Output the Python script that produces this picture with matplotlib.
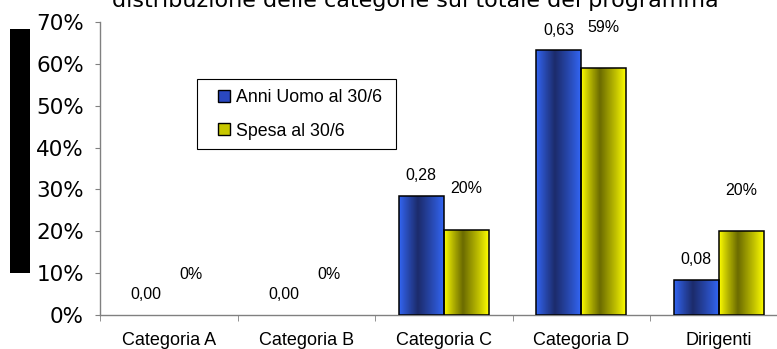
import numpy as np
import matplotlib
matplotlib.use('Agg')
import matplotlib.pyplot as plt
from matplotlib.patches import Rectangle
from matplotlib.lines import Line2D
from matplotlib.colors import ListedColormap

categories = ['Categoria A', 'Categoria B', 'Categoria C', 'Categoria D', 'Dirigenti']
anni_uomo = [0.0, 0.0, 0.284, 0.632, 0.084]
spesa = [0.0, 0.0, 0.204, 0.59, 0.20]
anni_labels = ['0,00', '0,00', '0,28', '0,63', '0,08']
spesa_labels = ['0%', '0%', '20%', '59%', '20%']
yticks = [0, 0.1, 0.2, 0.3, 0.4, 0.5, 0.6, 0.7]
ytick_labels = ['0%', '10%', '20%', '30%', '40%', '50%', '60%', '70%']

W, H = 777, 349
fig = plt.figure(figsize=(W / 100, H / 100), dpi=100)
ax = fig.add_axes([100 / W, 1 - 315 / H, 687.5 / W, 293 / H])

x = np.arange(len(categories))
bw = 0.327

def gradient_cmap(bright, dark, c=0.42):
    u = np.linspace(0, 1, 64)
    d = np.where(u < c, u / c, (1 - u) / (1 - c))
    d = np.clip(d, 0, 1) ** 0.9
    b = np.array(bright)
    k = np.array(dark)
    cols = b[None, :] * (1 - d[:, None]) + k[None, :] * d[:, None]
    return ListedColormap(cols)

blue_cm = gradient_cmap((0.20, 0.40, 0.96), (0.11, 0.17, 0.42))
yel_cm = gradient_cmap((1.0, 1.0, 0.0), (0.42, 0.42, 0.0))

bars1 = ax.bar(x - bw / 2, anni_uomo, bw, facecolor='none', edgecolor='black', lw=1.1, zorder=3)
bars2 = ax.bar(x + bw / 2, spesa, bw, facecolor='none', edgecolor='black', lw=1.1, zorder=3)

grad = np.linspace(0, 1, 64)[None, :]
for bars, cm in ((bars1, blue_cm), (bars2, yel_cm)):
    for b in bars:
        if b.get_height() <= 0:
            b.set_linewidth(0)  # empty bars show nothing
            continue
        bx, by = b.get_x(), b.get_y()
        im = ax.imshow(grad, cmap=cm, aspect='auto', zorder=2,
                       extent=[bx, bx + b.get_width(), by, by + b.get_height()])
        im.set_clip_path(b)

for b, lab in zip(bars1, anni_labels):
    ax.annotate(lab, (b.get_x() + b.get_width() / 2, b.get_height()), xytext=(0, 14.5),
                textcoords='offset points', ha='center', va='center',
                fontsize=11.5, family='Liberation Sans')
for b, lab in zip(bars2, spesa_labels):
    ax.annotate(lab, (b.get_x() + b.get_width() / 2, b.get_height()), xytext=(0, 29.5),
                textcoords='offset points', ha='center', va='center',
                fontsize=11.5, family='Liberation Sans')

ax.set_xlim(-0.5, len(categories) - 0.5)
ax.set_ylim(0, 0.7)
ax.set_yticks(yticks)
ax.set_yticklabels(ytick_labels, fontsize=15.5)
ax.set_xticks(x)
ax.set_xticklabels(categories, fontsize=13, family='Liberation Sans')
ax.set_xticks(np.arange(-0.5, len(categories) - 0.5, 1), minor=True)
ax.tick_params(axis='x', which='major', length=0, pad=12.5)
ax.tick_params(axis='x', which='minor', length=4, color='#808080', direction='out')
ax.tick_params(axis='y', length=3.6, color='#808080', pad=8)
for s in ('top', 'right'):
    ax.spines[s].set_visible(False)
for s in ('left', 'bottom'):
    ax.spines[s].set_color('#808080')
    ax.spines[s].set_linewidth(1.0)

handles = [Line2D([], [], ls='none', marker='s', markersize=8, markerfacecolor='#2a48c0',
                  markeredgecolor='black', markeredgewidth=1.0, label='Anni Uomo al 30/6'),
           Line2D([], [], ls='none', marker='s', markersize=8, markerfacecolor='#c8c800',
                  markeredgecolor='black', markeredgewidth=1.0, label='Spesa al 30/6')]
leg = ax.legend(handles=handles, loc='upper left', bbox_to_anchor=(0.141, 0.8055, 0.29, 0),
                mode='expand', borderaxespad=0, fancybox=False, framealpha=1,
                edgecolor='black', prop={'family': 'Liberation Sans', 'size': 12.8},
                handlelength=2.0, handletextpad=-0.34,
                labelspacing=0.95, borderpad=0.55)
leg.get_frame().set_linewidth(0.8)

fig.text(415 / W, 1 - 7 / H, 'distribuzione delle categorie sul totale del programma',
         ha='center', va='baseline', fontsize=16)

fig.patches.append(Rectangle((10 / W, 1 - 273 / H), 20 / W, 244 / H,
                             transform=fig.transFigure, facecolor='black', edgecolor='none'))

fig.savefig('out.png', dpi=100)
